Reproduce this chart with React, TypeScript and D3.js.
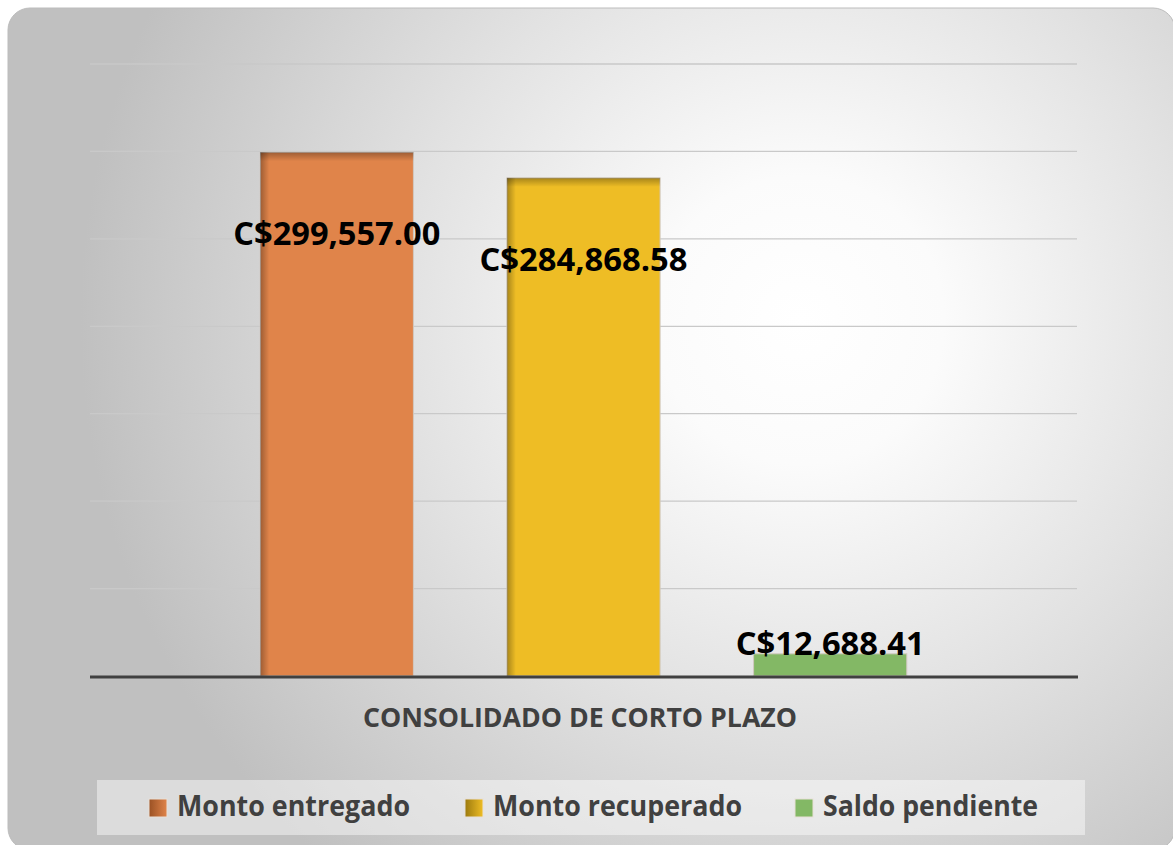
import React from "react";
import * as d3 from "d3";

const seriesNames = ["Monto entregado", "Monto recuperado", "Saldo pendiente"];
const seriesValues = [299557.0, 284868.58, 12688.41];
const seriesColors = ["#E0844A", "#EEBD25", "#83B865"];
const seriesDark = ["#9A5124", "#9C7A0E", "#83B865"];
const categoryLabel = "CONSOLIDADO DE CORTO PLAZO";
const yMax = 350000;
const yStep = 50000;

const W = 1173;
const H = 845;
const plot = { left: 90, right: 1077, top: 64, bottom: 676 };
const legendItemX = [149, 465, 795];
const legendTextLen = [233, 249, 215];
const labelLen = [207, 208, 189];

const fmt = (v: number) => "C$" + d3.format(",.2f")(v);

export default function App() {
  const y = d3.scaleLinear().domain([0, yMax]).range([plot.bottom, plot.top]);
  const x = d3
    .scaleBand<string>()
    .domain(seriesNames)
    .range([plot.left, plot.right])
    .paddingInner(0.379)
    .paddingOuter(0.69);
  const ticks = d3.range(yStep, yMax + 1, yStep);
  const font = "'Open Sans', 'Noto Sans', sans-serif";

  return (
    <svg
      width={W}
      height={H}
      viewBox={`0 0 ${W} ${H}`}
      style={{ position: "fixed", left: 0, top: 0, background: "#ffffff" }}
    >
      <defs>
        <radialGradient id="bg" gradientUnits="userSpaceOnUse" cx={800} cy={320} r={720}>
          <stop offset="0" stopColor="#ffffff" />
          <stop offset="0.2" stopColor="#fbfbfb" />
          <stop offset="0.55" stopColor="#e2e2e2" />
          <stop offset="1" stopColor="#c0c0c0" />
        </radialGradient>
        <linearGradient id="shL" x1="0" x2="1" y1="0" y2="0">
          <stop offset="0" stopColor="#000" stopOpacity={0.3} />
          <stop offset="1" stopColor="#000" stopOpacity={0} />
        </linearGradient>
        <linearGradient id="shT" x1="0" x2="0" y1="0" y2="1">
          <stop offset="0" stopColor="#000" stopOpacity={0.3} />
          <stop offset="1" stopColor="#000" stopOpacity={0} />
        </linearGradient>
        {seriesNames.map((s, i) => (
          <linearGradient key={s} id={`mk${i}`} x1="0" x2="1" y1="0" y2="0">
            <stop offset="0" stopColor={seriesDark[i]} />
            <stop offset="1" stopColor={seriesColors[i]} />
          </linearGradient>
        ))}
      </defs>

      <rect x={8} y={8} width={1167} height={842} rx={22} ry={22} fill="url(#bg)" stroke="#bcbcbc" strokeWidth={1} />

      {ticks.map((t) => (
        <line
          key={t}
          x1={plot.left}
          x2={plot.right}
          y1={y(t)}
          y2={y(t)}
          stroke="#c9c9c9"
          strokeWidth={1.3}
        />
      ))}

      {seriesNames.map((s, i) => {
        const bx = x(s) as number;
        const bw = x.bandwidth();
        const top = y(seriesValues[i]);
        const h = y(0) - top;
        return (
          <g key={s}>
            <rect x={bx} y={top} width={bw} height={h} fill={seriesColors[i]} stroke="#d0c8c0" strokeWidth={1} />
            {h > 40 && (
              <>
                <rect x={bx} y={top} width={9} height={h} fill="url(#shL)" />
                <rect x={bx} y={top} width={bw} height={9} fill="url(#shT)" />
              </>
            )}
          </g>
        );
      })}

      <line x1={plot.left} x2={plot.right + 1} y1={y(0) + 1} y2={y(0) + 1} stroke="#404040" strokeWidth={3} />

      {seriesNames.map((s, i) => {
        const cx = (x(s) as number) + x.bandwidth() / 2;
        const top = y(seriesValues[i]);
        const h = y(0) - top;
        const by = h > 100 ? top + 93 : top + 1;
        return (
          <text
            key={s}
            x={cx}
            y={by}
            textAnchor="middle"
            fontFamily={font}
            fontWeight={700}
            fontSize={33}
            fill="#000"
            textLength={labelLen[i]}
            lengthAdjust="spacingAndGlyphs"
          >
            {fmt(seriesValues[i])}
          </text>
        );
      })}

      <text
        x={580}
        y={727}
        textAnchor="middle"
        fontFamily={font}
        fontWeight={700}
        fontSize={27}
        fill="#404040"
        textLength={434}
        lengthAdjust="spacingAndGlyphs"
      >
        {categoryLabel}
      </text>

      <rect x={97} y={780} width={988} height={55} fill="#ffffff" fillOpacity={0.45} />
      {seriesNames.map((s, i) => (
        <g key={s}>
          <rect
            x={legendItemX[i]}
            y={799}
            width={18}
            height={18}
            fill={`url(#mk${i})`}
            stroke="#e8e0d8"
            strokeWidth={1}
          />
          <text
            x={legendItemX[i] + 28}
            y={816}
            fontFamily={font}
            fontWeight={700}
            fontSize={28.5}
            fill="#404040"
            textLength={legendTextLen[i]}
            lengthAdjust="spacingAndGlyphs"
          >
            {s}
          </text>
        </g>
      ))}
    </svg>
  );
}
